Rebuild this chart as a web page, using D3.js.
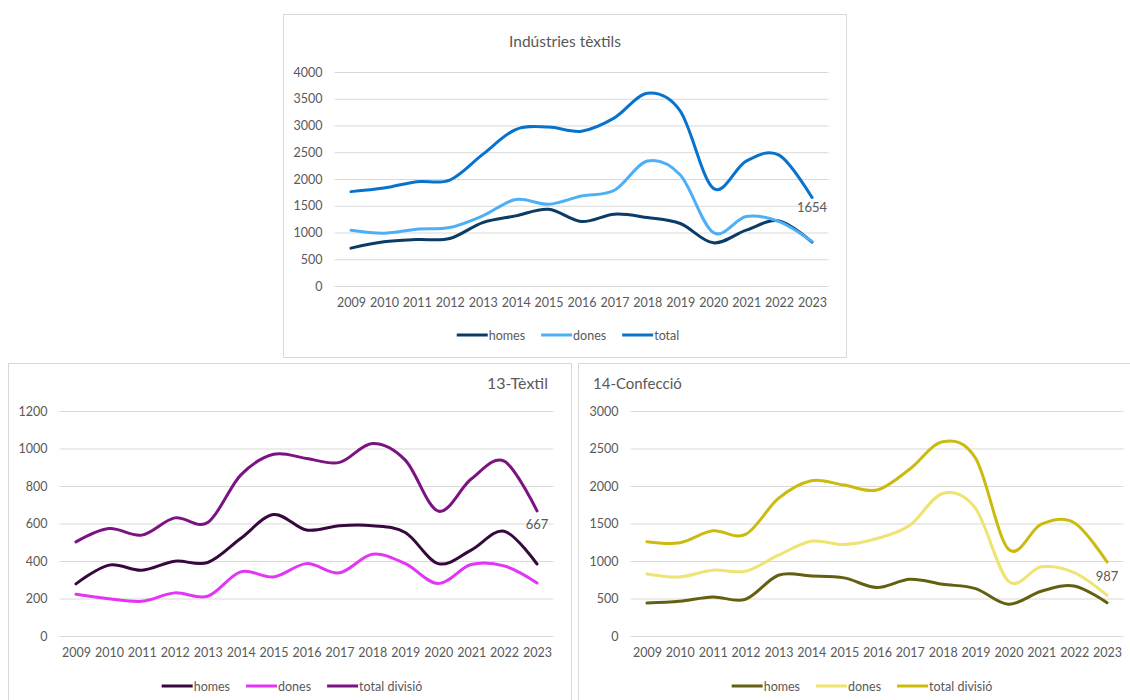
<!DOCTYPE html>
<html>
<head>
<meta charset="utf-8">
<script src="https://cdn.jsdelivr.net/npm/d3@7"></script>
<style>
  body { margin: 0; background: #fff; }
  text { font-family: Lato, "Open Sans", sans-serif; fill: #595959; }
</style>
</head>
<body>
<svg width="1130" height="700"></svg>
<script>
const years = ['2009','2010','2011','2012','2013','2014','2015','2016','2017','2018','2019','2020','2021','2022','2023']

// Indústries tèxtils
const texHomes = [708, 826, 870, 888, 1186, 1311, 1435, 1205, 1342, 1280, 1168, 807, 1043, 1217, 820]
const texDones = [1043, 988, 1062, 1093, 1311, 1615, 1528, 1683, 1789, 2335, 2075, 1000, 1298, 1205, 834]
const texTotal = [1764, 1830, 1950, 1981, 2460, 2925, 2970, 2894, 3143, 3602, 3267, 1826, 2335, 2447, 1654]

// 13-Tèxtil
const d13Homes = [278, 378, 351, 399, 392, 520, 648, 565, 588, 588, 552, 386, 458, 559, 384]
const d13Dones = [223, 199, 185, 230, 212, 342, 315, 386, 337, 436, 386, 280, 381, 374, 283]
const d13Total = [502, 573, 538, 630, 605, 858, 969, 947, 926, 1027, 938, 666, 837, 933, 667]

// 14-Confecció
const d14Homes = [441, 463, 521, 490, 810, 801, 775, 646, 757, 690, 632, 423, 597, 668, 444]
const d14Dones = [828, 788, 877, 864, 1077, 1264, 1220, 1300, 1478, 1901, 1700, 730, 922, 846, 543]
const d14Total = [1256, 1242, 1402, 1354, 1834, 2070, 2012, 1946, 2226, 2591, 2369, 1158, 1492, 1509, 987]

const svg = d3.select('svg')

function drawChart(cfg) {
  const g = svg.append('g')

  g.append('rect')
    .attr('x', cfg.box[0] + 0.5).attr('y', cfg.box[1] + 0.5)
    .attr('width', cfg.box[2]).attr('height', cfg.box[3])
    .attr('fill', '#fff').attr('stroke', '#d9d9d9')

  const x = d3.scalePoint().domain(years).range(cfg.xRange).padding(0.5)
  const y = d3.scaleLinear().domain([0, cfg.yMax]).range(cfg.yRange)

  const yAxis = g.append('g')
    .attr('transform', `translate(${cfg.xRange[0]}, 0)`)
    .call(d3.axisLeft(y).tickValues(d3.range(0, cfg.yMax + 1, cfg.yStep))
      .tickFormat(d3.format('d'))
      .tickSize(-(cfg.xRange[1] - cfg.xRange[0])).tickPadding(cfg.yPad))
  yAxis.select('.domain').remove()
  yAxis.selectAll('line').attr('stroke', '#d9d9d9')
  yAxis.selectAll('text').attr('font-size', 12.5).style('font-family', 'Lato').attr('fill', '#595959')

  const xAxis = g.append('g')
    .attr('transform', `translate(0, ${cfg.yRange[0]})`)
    .call(d3.axisBottom(x).tickSize(0).tickPadding(12))
  xAxis.select('.domain').remove()
  xAxis.selectAll('text').attr('font-size', 12.5).style('font-family', 'Lato').attr('fill', '#595959')

  const line = d3.line()
    .x((d, i) => x(years[i]))
    .y(d => y(d))
    .curve(d3.curveCatmullRom.alpha(0))

  cfg.series.forEach(s => {
    g.append('path')
      .datum(s.values)
      .attr('fill', 'none')
      .attr('stroke', s.color)
      .attr('stroke-width', 3)
      .attr('stroke-linecap', 'round')
      .attr('d', line)
  })

  const last = cfg.series[2].values
  g.append('text')
    .attr('x', x(years[14]))
    .attr('y', y(last[14]) + cfg.labelDy)
    .attr('text-anchor', 'middle')
    .attr('font-size', 13)
    .text(last[14])

  g.append('text')
    .attr('x', cfg.title[0]).attr('y', cfg.title[1])
    .attr('text-anchor', cfg.title[2])
    .attr('font-size', cfg.title[4])
    .text(cfg.title[3])

  // legend
  const leg = g.append('g')
  let lx = 0
  cfg.series.forEach(s => {
    const it = leg.append('g').attr('transform', `translate(${lx}, 0)`)
    it.append('line').attr('x1', 0).attr('x2', 31).attr('y1', 0).attr('y2', 0)
      .attr('stroke', s.color).attr('stroke-width', 3)
    const t = it.append('text').attr('x', 32).attr('y', 4.5).attr('font-size', 12.5).text(s.name)
    lx += 32 + t.node().getComputedTextLength() + 16
  })
  lx -= 16
  leg.attr('transform', `translate(${cfg.legend[0] - lx / 2}, ${cfg.legend[1]})`)
}

drawChart({
  box: [283, 14, 563, 343],
  xRange: [334.5, 828.5], yRange: [286, 72], yMax: 4000, yStep: 500, yPad: 12,
  title: [565, 47, 'middle', 'Indústries tèxtils', 15.5],
  legend: [568, 335], labelDy: 14,
  series: [
    { name: 'homes', values: texHomes, color: '#0b3c68' },
    { name: 'dones', values: texDones, color: '#4db0f7' },
    { name: 'total', values: texTotal, color: '#0873cc' }
  ]
})

drawChart({
  box: [8, 363, 563, 345],
  xRange: [59.5, 553.5], yRange: [636, 411], yMax: 1200, yStep: 200, yPad: 12,
  title: [548, 389, 'end', '13-Tèxtil', 16],
  legend: [292, 686], labelDy: 18,
  series: [
    { name: 'homes', values: d13Homes, color: '#36093d' },
    { name: 'dones', values: d13Dones, color: '#e335f5' },
    { name: 'total divisió', values: d13Total, color: '#7b1383' }
  ]
})

drawChart({
  box: [578, 363, 560, 345],
  xRange: [630.5, 1123.5], yRange: [636, 411], yMax: 3000, yStep: 500, yPad: 12,
  title: [593, 389, 'start', '14-Confecció', 15],
  legend: [862, 686], labelDy: 19,
  series: [
    { name: 'homes', values: d14Homes, color: '#646012' },
    { name: 'dones', values: d14Dones, color: '#efe373' },
    { name: 'total divisió', values: d14Total, color: '#cbbb0e' }
  ]
})
</script>
</body>
</html>
